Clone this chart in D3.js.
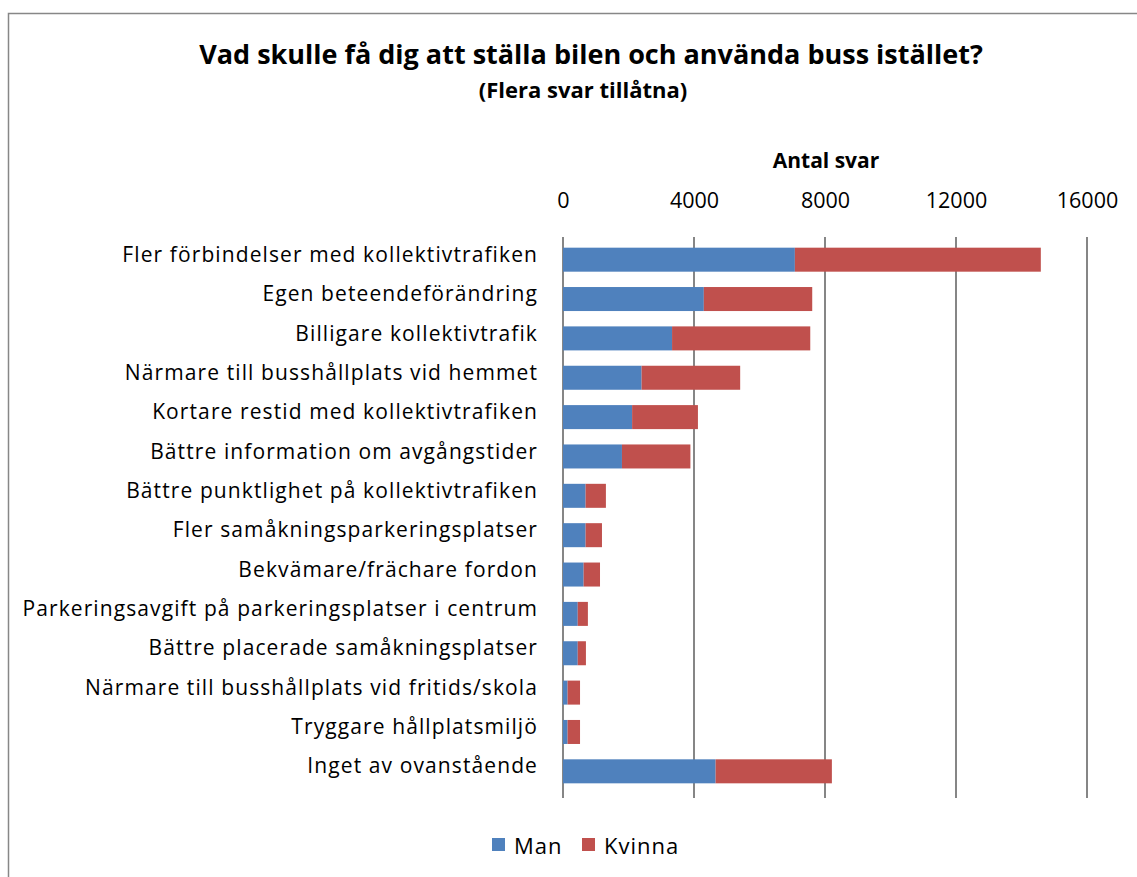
<!DOCTYPE html>
<html>
<head>
<meta charset="utf-8">
<script src="https://cdn.jsdelivr.net/npm/d3@7"></script>
<style>
  html, body { margin: 0; padding: 0; background: #fff; }
  svg { display: block; font-family: "Open Sans", Lato, sans-serif; }
</style>
</head>
<body>
<svg id="chart" width="1137" height="877"></svg>
<script>
// Survey answers: what would make you leave the car and take the bus instead?
const categories = [
  "Fler förbindelser med kollektivtrafiken",
  "Egen beteendeförändring",
  "Billigare kollektivtrafik",
  "Närmare till busshållplats vid hemmet",
  "Kortare restid med kollektivtrafiken",
  "Bättre information om avgångstider",
  "Bättre punktlighet på kollektivtrafiken",
  "Fler samåkningsparkeringsplatser",
  "Bekvämare/frächare fordon",
  "Parkeringsavgift på parkeringsplatser i centrum",
  "Bättre placerade samåkningsplatser",
  "Närmare till busshållplats vid fritids/skola",
  "Tryggare hållplatsmiljö",
  "Inget av ovanstående"
];
const man    = [7080, 4300, 3330, 2400, 2110, 1800, 690, 690, 630, 450, 450, 140, 140, 4660];
const kvinna = [7510, 3310, 4220, 3010, 2010, 2090, 620, 500, 500, 310, 250, 380, 380, 3550];
const seriesNames = ["Man", "Kvinna"];
const seriesColors = ["#4F81BD", "#C0504D"];
const tickValues = [0, 4000, 8000, 12000, 16000];

const svg = d3.select("#chart");

// outer chart frame
svg.append("path")
  .attr("d", "M8.5,877 L8.5,13.5 L1137,13.5")
  .attr("fill", "none")
  .attr("stroke", "#878787")
  .attr("stroke-width", 1.5);

const plot = { left: 563, right: 1087, top: 240, bottom: 791 };

const x = d3.scaleLinear().domain([0, 16000]).range([plot.left, plot.right]);
const y = d3.scaleBand().domain(categories).range([plot.top, plot.bottom]).paddingInner(0.39).paddingOuter(0.195);

// vertical gridlines
svg.append("g")
  .selectAll("line")
  .data(tickValues)
  .join("line")
  .attr("x1", d => x(d)).attr("x2", d => x(d))
  .attr("y1", 237).attr("y2", 798)
  .attr("stroke", "#868686")
  .attr("stroke-width", 2);

// stacked bars
const stackData = categories.map((c, i) => ({ cat: c, Man: man[i], Kvinna: kvinna[i] }));
const stacked = d3.stack().keys(seriesNames)(stackData);

svg.append("g")
  .selectAll("g")
  .data(stacked)
  .join("g")
  .attr("fill", (d, i) => seriesColors[i])
  .selectAll("rect")
  .data(d => d)
  .join("rect")
  .attr("x", d => x(d[0]))
  .attr("width", d => x(d[1]) - x(d[0]))
  .attr("y", d => y(d.data.cat))
  .attr("height", y.bandwidth());

// top value axis
const axisTop = d3.axisTop(x).tickValues(tickValues).tickSize(0).tickPadding(0).tickFormat(d3.format("d"));
const gx = svg.append("g").attr("transform", "translate(0,208)").call(axisTop);
gx.select(".domain").remove();
gx.selectAll("text")
  .attr("font-size", 21.5)
  .attr("font-family", "Open Sans, sans-serif")
  .attr("fill", "#000");

// category axis
const axisLeft = d3.axisLeft(y).tickSize(0).tickPadding(25);
const gy = svg.append("g").attr("transform", `translate(${plot.left},0)`).call(axisLeft);
gy.select(".domain").remove();
gy.selectAll("text")
  .attr("font-size", 21)
  .attr("dy", "0.1em")
  .attr("font-family", "Open Sans, sans-serif")
  .attr("letter-spacing", "1.1px")
  .attr("fill", "#000");

// titles
svg.append("text")
  .attr("x", 591).attr("y", 64)
  .attr("text-anchor", "middle")
  .attr("font-size", 27).attr("font-weight", "bold")
  .text("Vad skulle få dig att ställa bilen och använda buss istället?");
svg.append("text")
  .attr("x", 583).attr("y", 98)
  .attr("text-anchor", "middle")
  .attr("font-size", 22).attr("font-weight", "bold")
  .text("(Flera svar tillåtna)");
svg.append("text")
  .attr("x", 826).attr("y", 168)
  .attr("text-anchor", "middle")
  .attr("font-size", 21).attr("font-weight", "bold")
  .text("Antal svar");

// legend
const legend = svg.append("g").attr("transform", "translate(492,838)");
const legendX = [0, 90];
seriesNames.forEach((name, i) => {
  const g = legend.append("g").attr("transform", `translate(${legendX[i]},0)`);
  g.append("rect").attr("width", 13).attr("height", 13).attr("fill", seriesColors[i]);
  g.append("text").attr("x", 22).attr("y", 16).attr("font-size", 22).attr("letter-spacing", "1px").text(name);
});
</script>
</body>
</html>
